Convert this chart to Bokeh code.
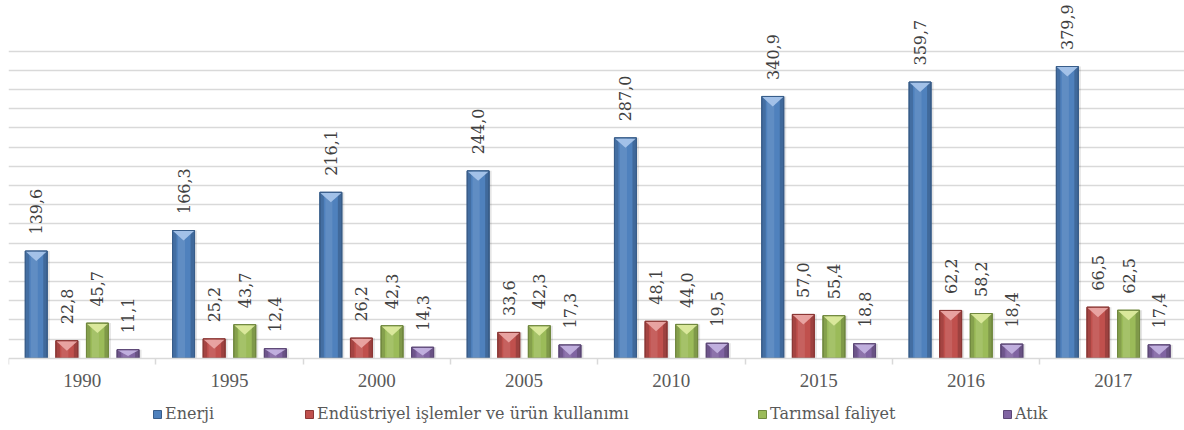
import math
from bokeh.plotting import figure
from bokeh.models import ColumnDataSource, FixedTicker, Legend, LegendItem
from bokeh.core.properties import value
from bokeh.embed import file_html
from bokeh.resources import INLINE

# Sera gazı emisyonları (Mt CO2 eşdeğeri), sektörlere göre
years = ["1990", "1995", "2000", "2005", "2010", "2015", "2016", "2017"]
series_names = ["Enerji", "Endüstriyel işlemler ve ürün kullanımı",
                "Tarımsal faliyet", "Atık"]
enerji = [139.6, 166.3, 216.1, 244.0, 287.0, 340.9, 359.7, 379.9]
endustriyel = [22.8, 25.2, 26.2, 33.6, 48.1, 57.0, 62.2, 66.5]
tarimsal = [45.7, 43.7, 42.3, 42.3, 44.0, 55.4, 58.2, 62.5]
atik = [11.1, 12.4, 14.3, 17.3, 19.5, 18.8, 18.4, 17.4]
grid_ticks = list(range(25, 401, 25))

series_values = [enerji, endustriyel, tarimsal, atik]
base_colors = ["#4f81bd", "#c0504d", "#9bbb59", "#8064a2"]
edge_colors = ["#385d8a", "#8c3836", "#71893f", "#5c4776"]
bevel_colors = ["#a6c4ea", "#eaa6a4", "#dcea9e", "#c3b2e0"]

W, H = 1184, 430
LEFT = 8
FRAME_W = W - LEFT
CAT_PX = 147.3                      # pixel width of one year group
X_END = FRAME_W / CAT_PX
PX_Y = 0.7678                       # pixels per emission unit
ZERO_PX = 357.7                     # canvas row of the zero line
Y_END = ZERO_PX / PX_Y
Y_START = -(H - ZERO_PX) / PX_Y
STEP = 30.6 / CAT_PX                # distance between bars in a group
BAR_W = 22.0 / CAT_PX
PX_X = 1.0 / CAT_PX

LABEL_FONT = "DejaVu Serif"

p = figure(width=W, height=H, x_range=(0, X_END), y_range=(Y_START, Y_END),
           output_backend="svg", toolbar_location=None,
           min_border_left=LEFT, min_border_right=0, min_border_top=0,
           min_border_bottom=0)
p.outline_line_color = None
p.background_fill_color = "white"
p.border_fill_color = "white"

p.yaxis.visible = False
p.xgrid.visible = False
p.ygrid.ticker = FixedTicker(ticks=grid_ticks)
p.ygrid.grid_line_color = "#d9d9d9"
p.ygrid.grid_line_width = 1.5

# year axis drawn on the zero line; minor ticks separate the year groups
centers = [i + 0.5 for i in range(len(years))]
xa = p.xaxis[0]
xa.fixed_location = 0
xa.ticker = FixedTicker(ticks=centers, minor_ticks=list(range(len(years))))
xa.major_label_overrides = {c: y for c, y in zip(centers, years)}
xa.axis_line_color = "#d9d9d9"
xa.axis_line_width = 1.5
xa.major_tick_in = 0
xa.major_tick_out = 0
xa.minor_tick_in = 0
xa.minor_tick_out = 6
xa.minor_tick_line_color = "#d9d9d9"
xa.minor_tick_line_width = 1.5
xa.major_label_standoff = 10
xa.major_label_text_font = "Liberation Serif"
xa.major_label_text_font_size = "19px"
xa.major_label_text_color = "#595959"

main_renderers = []
for k, (vals, base, edge, bevel) in enumerate(
        zip(series_values, base_colors, edge_colors, bevel_colors)):
    off = (k - 1.5) * STEP
    xs = [c + off for c in centers]
    src = ColumnDataSource(dict(
        x=xs, top=vals,
        label=[f"{v:.1f}".replace(".", ",") for v in vals],
        label_y=[v + 16.5 / PX_Y for v in vals],
    ))
    # soft drop shadow
    p.vbar(x=[x + 1.5 * PX_X for x in xs], top=vals, bottom=0,
           width=BAR_W + 2 * PX_X, fill_color="black", fill_alpha=0.10,
           line_color=None)
    r = p.vbar(x="x", top="top", bottom=0, width=BAR_W, source=src,
               fill_color=base, line_color=edge, line_width=1)
    main_renderers.append(r)
    # darker rounded edges and a light centre column
    p.vbar(x=[x - BAR_W / 2 + 2 * PX_X for x in xs], top=vals, bottom=0,
           width=4 * PX_X, fill_color="black", fill_alpha=0.14, line_color=None)
    p.vbar(x=[x + BAR_W / 2 - 2 * PX_X for x in xs], top=vals, bottom=0,
           width=4 * PX_X, fill_color="black", fill_alpha=0.18, line_color=None)
    p.vbar(x=[x - 2 * PX_X for x in xs], top=vals, bottom=0,
           width=7 * PX_X, fill_color="white", fill_alpha=0.10, line_color=None)
    # bevelled top
    tri_x, tri_y = [], []
    for x, v in zip(xs, vals):
        d = min(10.0, 0.75 * v * PX_Y) / PX_Y
        tri_x.append([x - BAR_W / 2 + 0.5 * PX_X, x + BAR_W / 2 - 0.5 * PX_X, x])
        tri_y.append([v - 0.6 / PX_Y, v - 0.6 / PX_Y, v - d])
    p.patches(tri_x, tri_y, fill_color=bevel, line_color=None, fill_alpha=0.95)
    p.vbar(x="x", top="top", bottom=0, width=BAR_W, source=src,
           fill_color=None, line_color=edge, line_width=1)
    # vertical value labels above the bars
    p.text(x="x", y="label_y", text="label", source=src, angle=math.pi / 2,
           text_align="left", text_baseline="middle",
           text_font=value(LABEL_FONT), text_font_size="16px",
           text_color="#404040")

legend_x = [144, 296, 749, 994]
for name, r, lx in zip(series_names, main_renderers, legend_x):
    lg = Legend(items=[LegendItem(label=name, renderers=[r])],
                location=(lx, 7), orientation="horizontal",
                border_line_color=None, background_fill_alpha=0,
                padding=0, margin=0, glyph_width=10, glyph_height=10,
                label_standoff=3, label_text_font=LABEL_FONT,
                label_text_font_size="16px", label_text_color="#595959")
    p.add_layout(lg)

open("out.html", "w").write(file_html(p, INLINE))
